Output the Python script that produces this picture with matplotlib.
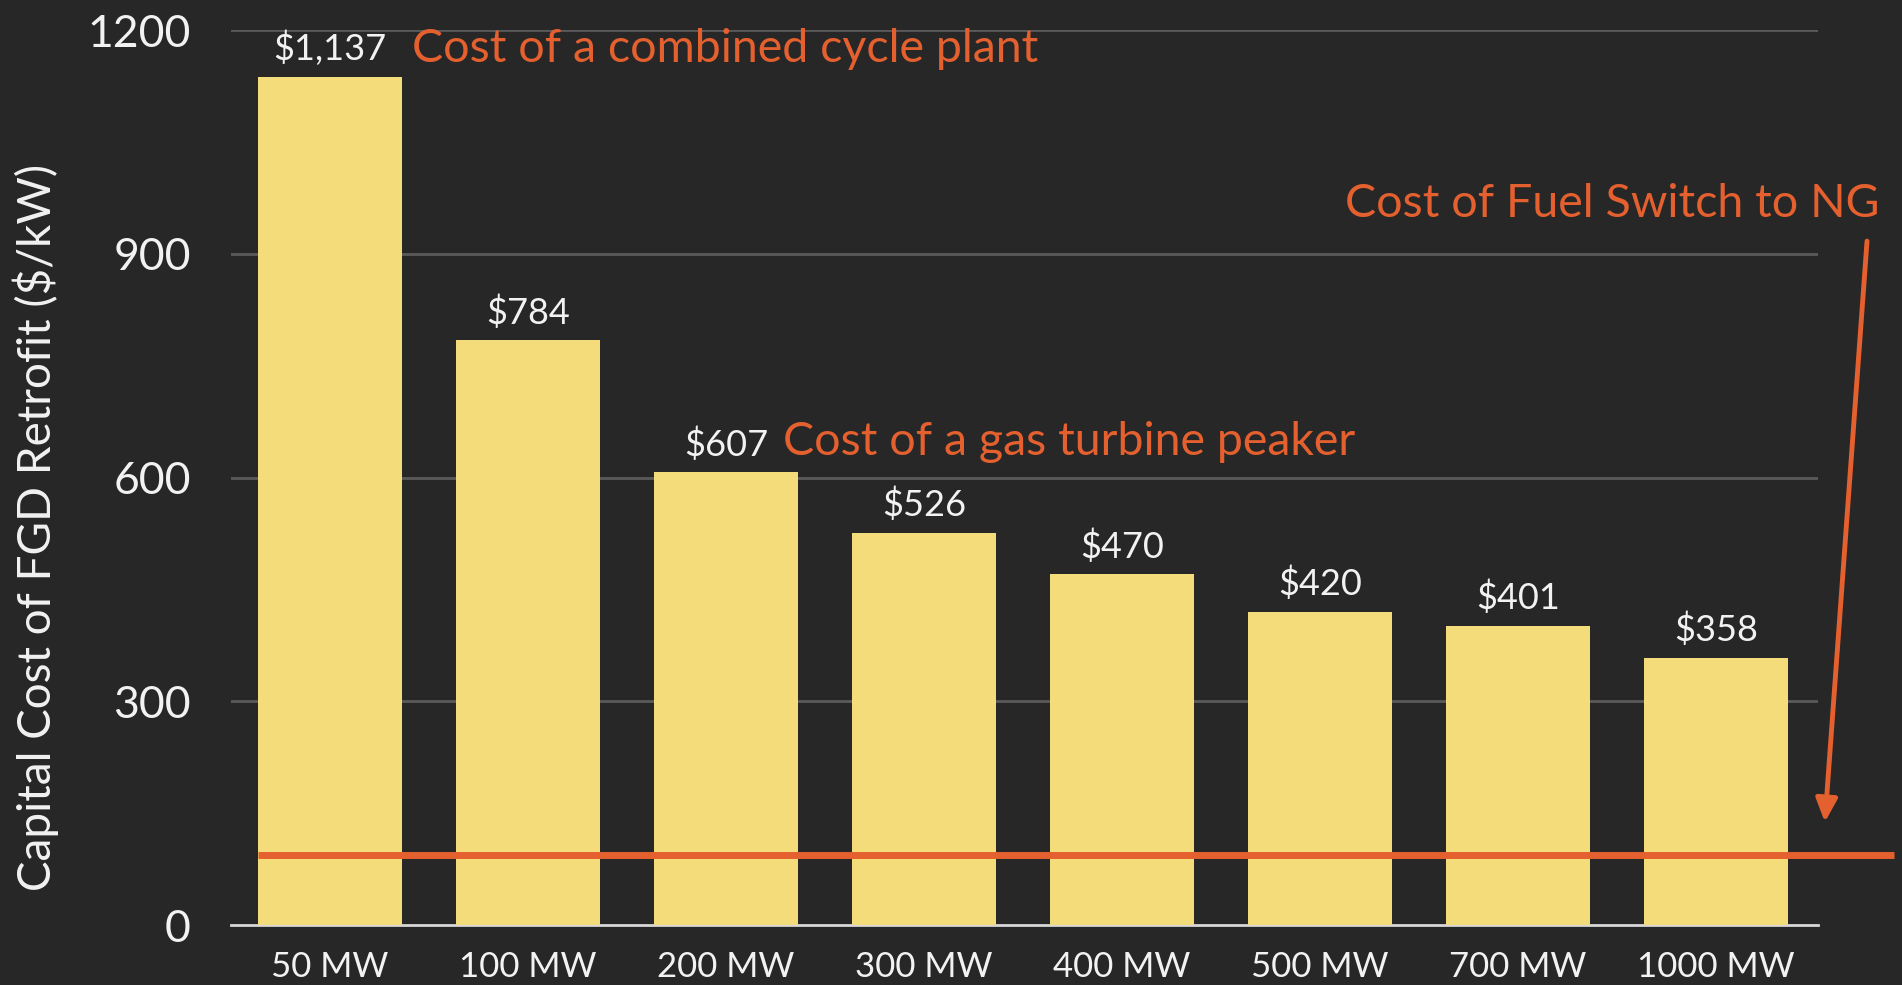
import matplotlib.pyplot as plt

# data
sizes = ["50 MW", "100 MW", "200 MW", "300 MW", "400 MW", "500 MW", "700 MW", "1000 MW"]
costs = [1137, 784, 607, 526, 470, 420, 401, 358]
fuel_switch_cost = 94
y_ticks = [0, 300, 600, 900, 1200]

bg = "#272727"
bar_color = "#F5DC7A"
orange = "#E5602F"
white = "#F2F2F2"

plt.rcParams["font.family"] = ["Lato", "DejaVu Sans"]

fig = plt.figure(figsize=(19.02, 9.85), dpi=100, facecolor=bg)
ax = fig.add_axes([0.1215, 0.0609, 0.8343, 0.9086], facecolor=bg)

x = list(range(len(sizes)))

# grid lines behind the bars
for t in y_ticks[1:]:
    ax.axhline(t, color="#5a5a5a", lw=2, zorder=0)

ax.bar(x, costs, width=0.727, color=bar_color, zorder=2)

# value labels on top of bars
for xi, c in zip(x, costs):
    ax.annotate("${:,}".format(c), (xi, c), xytext=(0, 12), textcoords="offset points",
                ha="center", va="baseline", color=white, fontsize=26, zorder=4)

# fuel switch line
ax.plot([-0.364, 7.9], [fuel_switch_cost, fuel_switch_cost], color=orange, lw=5,
        solid_capstyle="butt", clip_on=False, zorder=3)

ax.annotate("", xy=(7.55, 138), xytext=(7.763, 917), annotation_clip=False,
            arrowprops=dict(arrowstyle="-|>,head_length=1.4,head_width=0.65",
                            color=orange, lw=3.5, shrinkA=0, shrinkB=0))

# annotations
ax.text(0.414, 1157, "Cost of a combined cycle plant", color=orange, fontsize=33.5,
        ha="left", va="baseline", zorder=4)
ax.text(2.288, 630, "Cost of a gas turbine peaker", color=orange, fontsize=33.5,
        ha="left", va="baseline", zorder=4)
ax.text(7.828, 949, "Cost of Fuel Switch to NG", color=orange, fontsize=33.5,
        ha="right", va="baseline", clip_on=False, zorder=4)

ax.set_xlim(-0.5, 7.515)
ax.set_ylim(0, 1200)
ax.set_yticks(y_ticks)
ax.set_yticklabels([str(t) for t in y_ticks], fontsize=32, color=white)
ax.set_xticks(x)
ax.set_xticklabels(sizes, fontsize=25, color=white)
ax.tick_params(axis="y", length=0, pad=29)
ax.tick_params(axis="x", length=0, pad=19)

for s in ["top", "right", "left"]:
    ax.spines[s].set_visible(False)
ax.spines["bottom"].set_color("#d8d8d8")
ax.spines["bottom"].set_linewidth(2)
ax.spines["bottom"].set_zorder(1)

fig.text(36 / 1902, 1 - 527 / 985, "Capital Cost of FGD Retrofit ($/kW)", rotation=90,
         ha="center", va="center", color=white, fontsize=33)

fig.savefig("out.png", dpi=100, facecolor=bg)
